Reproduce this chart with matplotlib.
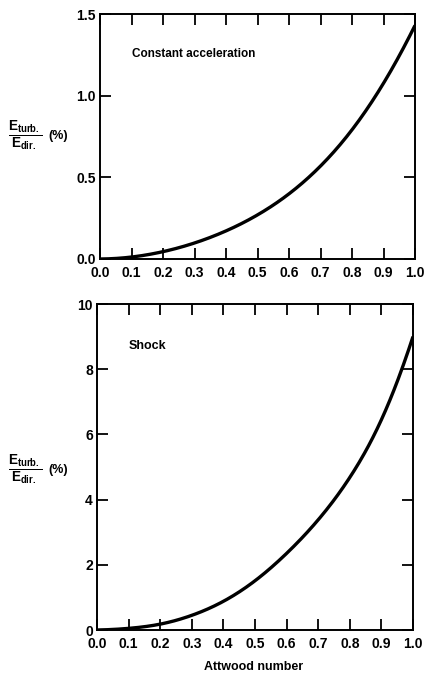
import numpy as np
import matplotlib
matplotlib.use("Agg")
import matplotlib.pyplot as plt

plt.rcParams['font.family'] = ['Liberation Sans', 'DejaVu Sans']
plt.rcParams['font.weight'] = 'bold'
plt.rcParams['mathtext.fontset'] = 'custom'
plt.rcParams['mathtext.rm'] = 'Liberation Sans:bold'
plt.rcParams['mathtext.bf'] = 'Liberation Sans:bold'
plt.rcParams['mathtext.it'] = 'Liberation Sans:bold'

# Attwood number samples
atwood = [0.0, 0.1, 0.2, 0.3, 0.4, 0.5, 0.6, 0.7, 0.8, 0.9, 1.0]
const_accel = [0.0, 0.012, 0.045, 0.098, 0.172, 0.270, 0.399, 0.569, 0.791, 1.076, 1.43]
shock = [0.0, 0.05, 0.18, 0.45, 0.88, 1.51, 2.35, 3.38, 4.68, 6.45, 9.0]

x_ticks = [0.0, 0.1, 0.2, 0.3, 0.4, 0.5, 0.6, 0.7, 0.8, 0.9, 1.0]
top_yticks = [0.0, 0.5, 1.0, 1.5]
bot_yticks = [0, 2, 4, 6, 8, 10]

W, H = 424, 674
fig = plt.figure(figsize=(W / 100, H / 100), dpi=100)

def axes_px(left, top, right, bottom):
    return fig.add_axes([left / W, 1 - bottom / H, (right - left) / W, (bottom - top) / H])

ax1 = axes_px(100, 14, 415, 259)
ax2 = axes_px(97, 304, 413, 630)

# cubic spline with parabolic run-out ends, so the curve stays smooth
def spline(xs, ys, n=300):
    x = np.asarray(xs, float)
    y = np.asarray(ys, float)
    N = len(x)
    h = np.diff(x)
    A = np.zeros((N, N))
    b = np.zeros(N)
    A[0, 0], A[0, 1] = 1, -1
    A[-1, -1], A[-1, -2] = 1, -1
    for i in range(1, N - 1):
        A[i, i - 1] = h[i - 1]
        A[i, i] = 2 * (h[i - 1] + h[i])
        A[i, i + 1] = h[i]
        b[i] = 6 * ((y[i + 1] - y[i]) / h[i] - (y[i] - y[i - 1]) / h[i - 1])
    M = np.linalg.solve(A, b)
    xf = np.linspace(x[0], x[-1], n)
    k = np.clip(np.searchsorted(x, xf) - 1, 0, N - 2)
    hk = h[k]
    a = x[k + 1] - xf
    c = xf - x[k]
    yf = (M[k] * a**3 + M[k + 1] * c**3) / (6 * hk) \
        + (y[k] / hk - M[k] * hk / 6) * a + (y[k + 1] / hk - M[k + 1] * hk / 6) * c
    return xf, np.clip(yf, 0, None)

for ax, ys, yt, ylim, fmt in [
    (ax1, const_accel, top_yticks, 1.5, "{:.1f}"),
    (ax2, shock, bot_yticks, 10, "{:d}"),
]:
    xf, yf = spline(atwood, ys)
    ax.plot(xf, yf, color='black', lw=2.4, solid_capstyle='butt')
    ax.set_xlim(0, 1.0)
    ax.set_ylim(0, ylim)
    ax.set_xticks(x_ticks)
    ax.set_xticklabels(["{:.1f}".format(v) for v in x_ticks], fontsize=10, fontweight='bold')
    ax.set_yticks(yt)
    ax.set_yticklabels([fmt.format(v) for v in yt], fontsize=10, fontweight='bold')
    ax.tick_params(direction='in', length=8, width=1.3, top=True, right=True)
    ax.tick_params(axis='x', pad=5)
    ax.tick_params(axis='y', pad=3)
    for s in ax.spines.values():
        s.set_linewidth(1.4)

ax1.text(0.1, 0.835, "Constant acceleration", transform=ax1.transAxes,
         fontsize=8.5, fontweight='bold', va='center')
ax2.text(0.1, 0.87, "Shock", transform=ax2.transAxes,
         fontsize=9, fontweight='bold', va='center')

frac = r'$\frac{E_{turb.}}{E_{dir.}}$'
for yc in (136, 470):
    fig.text(8 / W, 1 - yc / H, frac, fontsize=14, va='center', ha='left')
    fig.text(48 / W, 1 - yc / H, "(%)", fontsize=9, fontweight='bold', va='center')

fig.text(254 / W, 1 - 667 / H, "Attwood number", fontsize=9, fontweight='bold',
         ha='center', va='center')

fig.savefig("out.png", dpi=100)
